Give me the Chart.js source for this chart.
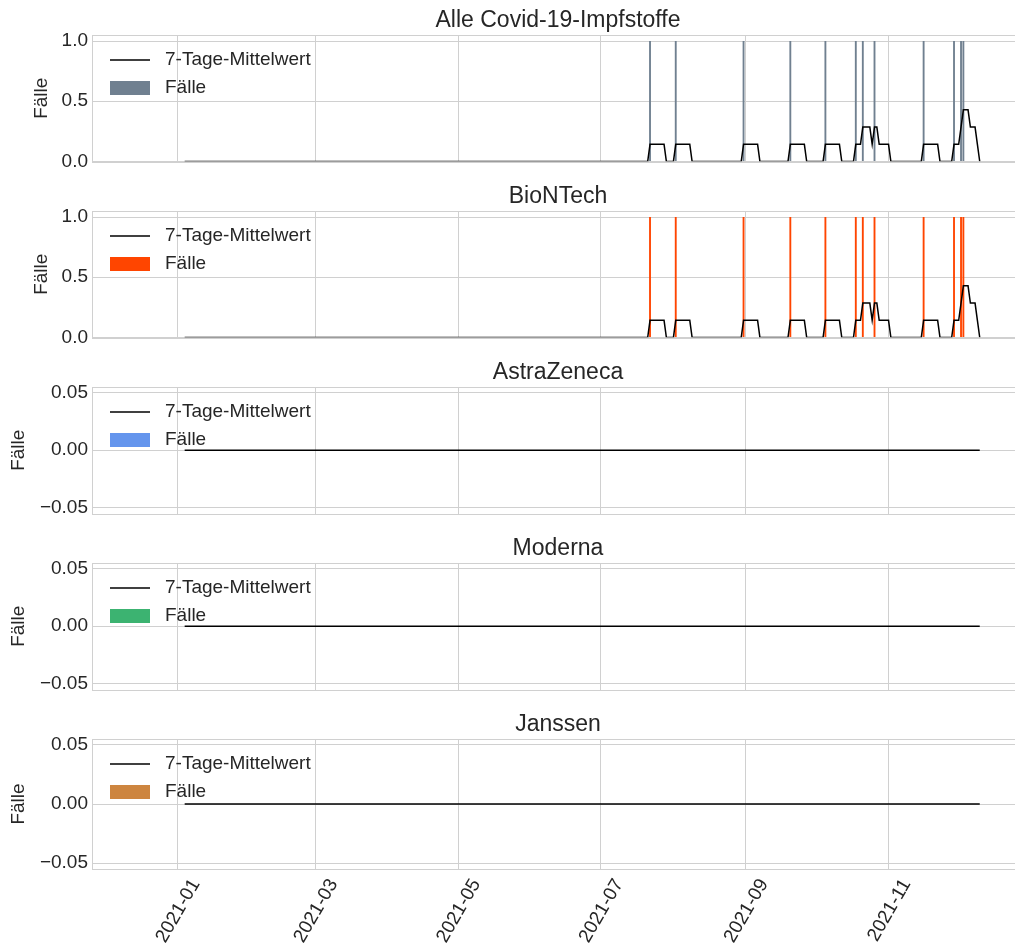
<!DOCTYPE html>
<html>
<head>
<meta charset="utf-8">
<script src="https://cdn.jsdelivr.net/npm/chart.js@4.4.1/dist/chart.umd.min.js"></script>
<style>
  html, body { margin: 0; padding: 0; background: #fff; }
  #wrap { position: relative; width: 1015px; height: 943px; overflow: hidden; }
  #wrap canvas { position: absolute; left: 0; }
</style>
</head>
<body>
<div id="wrap">
  <canvas id="c0" width="1030" height="176" style="top:0px"></canvas>
  <canvas id="c1" width="1030" height="176" style="top:176px"></canvas>
  <canvas id="c2" width="1030" height="176" style="top:352px"></canvas>
  <canvas id="c3" width="1030" height="176" style="top:528px"></canvas>
  <canvas id="c4" width="1030" height="239" style="top:704px"></canvas>
</div>
<script>
// panels
const panelTitles = ['Alle Covid-19-Impfstoffe', 'BioNTech', 'AstraZeneca', 'Moderna', 'Janssen'];
const barColors = ['#708090', '#ff4500', '#6495ed', '#3cb371', '#cd853f'];

// reporting period of the daily series
const seriesStart = '2021-01-04';
const seriesEnd = '2021-12-10';

// days with one reported case (all other days 0)
const allCaseDates = ['2021-07-22', '2021-08-02', '2021-08-31', '2021-09-20', '2021-10-05', '2021-10-18',
                      '2021-10-21', '2021-10-26', '2021-11-16', '2021-11-29', '2021-12-02', '2021-12-03'];
const biontechCaseDates = ['2021-07-22', '2021-08-02', '2021-08-31', '2021-09-20', '2021-10-05', '2021-10-18',
                           '2021-10-21', '2021-10-26', '2021-11-16', '2021-11-29', '2021-12-02', '2021-12-03'];
const astraCaseDates = [];
const modernaCaseDates = [];
const janssenCaseDates = [];
const caseDates = [allCaseDates, biontechCaseDates, astraCaseDates, modernaCaseDates, janssenCaseDates];

// ticks
const xTickDates = ['2021-01-01', '2021-03-01', '2021-05-01', '2021-07-01', '2021-09-01', '2021-11-01'];
const xTickLabels = ['2021-01', '2021-03', '2021-05', '2021-07', '2021-09', '2021-11'];
const yTicksCases = [0, 0.5, 1];
const yLabelsCases = ['0.0', '0.5', '1.0'];
const yTicksEmpty = [-0.05, 0, 0.05];
const yLabelsEmpty = ['\u22120.05', '0.00', '0.05'];

const FONT = "'Liberation Sans', Arial, sans-serif";
const TEXT = '#262626';
const GRID = '#d0d0d0';
const BASE = 19;

function dayNum(s) {
  const [y, m, d] = s.split('-').map(Number);
  return (Date.UTC(y, m - 1, d) - Date.UTC(2021, 0, 1)) / 86400000;
}

// axes frame, drawn over the data like matplotlib spines
const framePlugin = {
  id: 'frame',
  afterDatasetsDraw(chart) {
    const {ctx, chartArea: a} = chart;
    const l = Math.round(a.left) - 0.5, t = Math.round(a.top) + 0.5;
    const b = Math.round(a.bottom) + 0.5, r = a.right + 0.5;
    ctx.save();
    ctx.strokeStyle = GRID;
    ctx.lineWidth = 1;
    ctx.strokeRect(l, t, r - l, b - t);
    ctx.restore();
  }
};

const legendPlugin = {
  id: 'insideLegend',
  afterDraw(chart) {
    const {ctx, chartArea: a} = chart;
    const lineDs = chart.data.datasets[0];
    const barDs = chart.data.datasets[1];
    ctx.save();
    ctx.font = BASE + 'px ' + FONT;
    ctx.textBaseline = 'middle';
    ctx.strokeStyle = lineDs.borderColor;
    ctx.lineWidth = lineDs.borderWidth;
    ctx.beginPath();
    ctx.moveTo(a.left + 17, a.top + 25);
    ctx.lineTo(a.left + 57, a.top + 25);
    ctx.stroke();
    ctx.fillStyle = TEXT;
    ctx.fillText(lineDs.label, a.left + 72, a.top + 25);
    ctx.fillStyle = barDs.backgroundColor;
    ctx.fillRect(a.left + 17, a.top + 46, 40, 14);
    ctx.fillStyle = TEXT;
    ctx.fillText(barDs.label, a.left + 72, a.top + 53);
    ctx.restore();
  }
};

function makeChart(i) {
  const last = i === 4;
  const hasCases = i < 2;
  const start = dayNum(seriesStart), end = dayNum(seriesEnd);
  const hits = caseDates[i].map(dayNum);
  const counts = [];
  for (let d = start; d <= end; d++) {
    counts.push({x: d, y: hits.filter(h => h === d).length});
  }
  const means = counts.map((p, k) => {
    let s = 0;
    for (let j = Math.max(0, k - 6); j <= k; j++) s += counts[j].y;
    return {x: p.x, y: s / 7};
  });
  const yTicks = hasCases ? yTicksCases : yTicksEmpty;
  const yLabels = hasCases ? yLabelsCases : yLabelsEmpty;

  new Chart(document.getElementById('c' + i), {
    type: 'bar',
    data: {
      datasets: [
        {type: 'line', label: '7-Tage-Mittelwert', data: means, borderColor: '#000000', borderWidth: 1.5,
         pointRadius: 0, tension: 0, clip: {left: 0, top: 0, right: 0, bottom: -0.35}, order: 0},
        {type: 'bar', label: 'F\u00e4lle', data: counts, backgroundColor: barColors[i],
         barPercentage: 1, categoryPercentage: 0.8, order: 1}
      ]
    },
    options: {
      responsive: false,
      animation: false,
      layout: {padding: {left: 0, right: 7, top: 0, bottom: 0}},
      plugins: {
        legend: {display: false},
        tooltip: {enabled: false},
        title: {display: true, fullSize: false, text: panelTitles[i], color: TEXT,
                font: {size: 23, family: FONT, weight: 'normal'},
                padding: {top: 6.6, bottom: 0.8}}
      },
      scales: {
        x: {
          type: 'linear', min: -36.2, max: 361.5, offset: false,
          grid: {color: GRID, lineWidth: 1, drawTicks: false, offset: false},
          border: {display: false},
          ticks: {display: last, autoSkip: false, minRotation: 60, maxRotation: 60,
                  padding: 6, labelOffset: 18, color: TEXT, font: {size: BASE, family: FONT},
                  callback: (v, idx) => xTickLabels[idx]},
          afterBuildTicks: s => { s.ticks = xTickDates.map(t => ({value: dayNum(t)})); },
          afterFit: s => { s.height = last ? 74 : 11; }
        },
        y: {
          min: hasCases ? 0 : -0.055, max: hasCases ? 1.05 : 0.055,
          grid: {color: GRID, lineWidth: 1, drawTicks: false},
          border: {display: false},
          ticks: {padding: 5, color: TEXT, font: {size: BASE, family: FONT, lineHeight: 1},
                  callback: (v, idx) => yLabels[idx]},
          afterBuildTicks: s => { s.ticks = yTicks.map(v => ({value: v})); },
          afterFit: s => { s.width = 93; },
          title: {display: true, text: 'F\u00e4lle', color: TEXT, font: {size: BASE, family: FONT},
                  padding: {top: hasCases ? 30 : 7.5, bottom: 0}}
        }
      }
    },
    plugins: [framePlugin, legendPlugin]
  });
}

for (let i = 0; i < 5; i++) makeChart(i);
</script>
</body>
</html>
